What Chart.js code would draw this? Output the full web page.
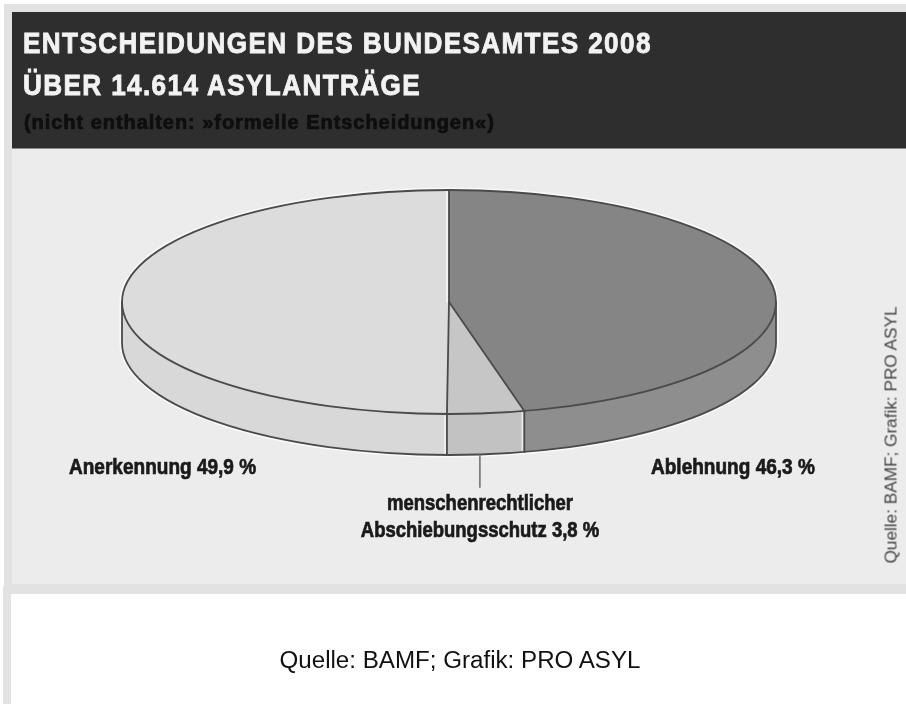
<!DOCTYPE html>
<html lang="de">
<head>
<meta charset="utf-8">
<title>Entscheidungen des Bundesamtes 2008</title>
<script src="https://cdn.jsdelivr.net/npm/chart.js@4"></script>
<style>
  html, body { margin: 0; padding: 0; background: #fff; }
  #page { position: relative; width: 906px; height: 704px; overflow: hidden; font-family: "Liberation Sans", Arial, sans-serif; }
  #page > div, #page > canvas { position: absolute; }
  #frameTop { left: 4px; top: 4px; right: 0; height: 590px; background: #e2e2e2; }
  #frameLeft { left: 3px; top: 586px; width: 8px; bottom: 0; background: #e2e2e2; }
  #panel { left: 12px; top: 148px; right: 0; height: 436px; background: #ececec; }
  #header { left: 12px; top: 12px; right: 0; height: 137px; background: #2e2e2e; border-bottom: 1px solid #8a8a8a; box-sizing: border-box; }
  #chart { left: 0; top: 0; filter: blur(0.5px); }
  .title { color: #f2f2f2; font-weight: bold; font-size: 30px; line-height: 34px; letter-spacing: 1.6px; white-space: nowrap; left: 23px; transform: scaleX(0.87); transform-origin: left center; -webkit-text-stroke: 0.9px #f2f2f2; filter: blur(0.5px); }
  #sub { left: 24px; top: 111px; color: #0e0e0e; font-weight: bold; font-size: 20px; letter-spacing: 0.95px; white-space: nowrap; -webkit-text-stroke: 0.7px #0e0e0e; filter: blur(0.7px); }
  .lbl { color: #1a1a1a; font-weight: bold; font-size: 21.5px; line-height: 27px; white-space: nowrap; -webkit-text-stroke: 0.7px #1a1a1a; filter: blur(0.4px); transform: scaleX(0.885); transform-origin: left center; }
  #lblSchutz { transform: scaleX(0.86); transform-origin: center center; }
  #source { left: 100px; top: 647px; width: 720px; text-align: center; color: #111; font-size: 23px; white-space: nowrap; transform: scaleX(1.05); }
  #credit { left: 891px; top: 435px; color: #444; font-size: 17.2px; white-space: nowrap; transform: translate(-50%, -50%) rotate(-90deg); filter: blur(0.4px); }
</style>
</head>
<body>
<div id="page">
  <div id="frameTop"></div>
  <div id="frameLeft"></div>
  <div id="panel"></div>
  <div id="header"></div>
  <canvas id="chart" width="906" height="704"></canvas>
  <div class="title" style="top:26px">ENTSCHEIDUNGEN DES BUNDESAMTES 2008</div>
  <div class="title" style="top:68px">ÜBER 14.614 ASYLANTRÄGE</div>
  <div id="sub">(nicht enthalten: »formelle Entscheidungen«)</div>
  <div class="lbl" id="lblAnerkennung" style="left:69px;top:454px"></div>
  <div class="lbl" id="lblAblehnung" style="left:651px;top:454px"></div>
  <div class="lbl" id="lblSchutz" style="left:300px;top:490px;width:360px;text-align:center"></div>
  <div id="credit">Quelle: BAMF; Grafik: PRO ASYL</div>
  <div id="source">Quelle: BAMF; Grafik: PRO ASYL</div>
</div>
<script>
const categories = ['Ablehnung', 'menschenrechtlicher Abschiebungsschutz', 'Anerkennung'];
const shares = [46.3, 3.8, 49.9];
const topColors = ['#858585', '#c6c6c6', '#dcdcdc'];
const wallColors = ['#8e8e8e', '#c2c2c2', '#d8d8d8'];

// the pie is laid out as a circle, then squashed and shifted onto this spot
const SQUASH = 112 / 327;
const CENTER_Y = 302;
const DEPTH = 41;
const OUTLINE = '#4a4a4a';

function pct(v) {
  return v.toFixed(1).replace('.', ',') + ' %';
}

document.getElementById('lblAblehnung').textContent = categories[0] + ' ' + pct(shares[0]);
document.getElementById('lblAnerkennung').textContent = categories[2] + ' ' + pct(shares[2]);
const schutz = categories[1].split(' ');
document.getElementById('lblSchutz').innerHTML = schutz[0] + '<br>' + schutz[1] + ' ' + pct(shares[1]);

function strokeLine(ctx, x0, y0, x1, y1, color, width) {
  ctx.strokeStyle = color;
  ctx.lineWidth = width;
  ctx.beginPath();
  ctx.moveTo(x0, y0);
  ctx.lineTo(x1, y1);
  ctx.stroke();
}

function wallPath(ctx, cx, rx, ry, a0, a1) {
  ctx.beginPath();
  ctx.ellipse(cx, CENTER_Y, rx, ry, 0, a0, a1);
  ctx.ellipse(cx, CENTER_Y + DEPTH, rx, ry, 0, a1, a0, true);
  ctx.closePath();
}

const pie3d = {
  id: 'pie3d',
  beforeDatasetsDraw(chart) {
    const ctx = chart.ctx;
    const arcs = chart.getDatasetMeta(0).data;
    const cx = arcs[0].x;
    const rx = arcs[0].outerRadius;
    const ry = rx * SQUASH;

    ctx.save();
    // soft white halo round the whole disc
    ctx.strokeStyle = 'rgba(255,255,255,0.75)';
    ctx.lineWidth = 5;
    wallPath(ctx, cx, rx, ry, 0, Math.PI);
    ctx.stroke();
    ctx.beginPath();
    ctx.ellipse(cx, CENTER_Y, rx, ry, 0, Math.PI, Math.PI * 2);
    ctx.stroke();

    arcs.forEach((arc, i) => {
      const a0 = Math.max(arc.startAngle, 0);
      const a1 = Math.min(arc.endAngle, Math.PI);
      if (a1 <= a0) return;
      wallPath(ctx, cx, rx, ry, a0, a1);
      ctx.fillStyle = wallColors[i];
      ctx.fill();
    });
    ctx.restore();

    ctx.save();
    ctx.translate(0, CENTER_Y);
    ctx.scale(1, SQUASH);
    ctx.translate(0, -arcs[0].y);
  },
  afterDatasetsDraw(chart) {
    const ctx = chart.ctx;
    ctx.restore();

    const arcs = chart.getDatasetMeta(0).data;
    const cx = arcs[0].x;
    const rx = arcs[0].outerRadius;
    const ry = rx * SQUASH;

    ctx.save();
    ctx.lineCap = 'round';
    arcs.forEach(arc => {
      const ex = cx + rx * Math.cos(arc.startAngle);
      const ey = CENTER_Y + ry * Math.sin(arc.startAngle);
      if (arc.startAngle > 0 && arc.startAngle < Math.PI) {
        strokeLine(ctx, ex - 2, ey + 2, ex - 2, ey + DEPTH - 1, 'rgba(255,255,255,0.7)', 1.5);
        strokeLine(ctx, ex, ey, ex, ey + DEPTH, OUTLINE, 1.8);
      }
      // highlight next to the vertical spoke
      if (arc.startAngle < 0) {
        strokeLine(ctx, ex - 2, ey + 1, ex - 2, CENTER_Y, 'rgba(255,255,255,0.8)', 1.5);
      }
      strokeLine(ctx, cx, CENTER_Y, ex, ey, OUTLINE, 1.8);
    });

    ctx.strokeStyle = OUTLINE;
    ctx.lineWidth = 1.8;
    ctx.beginPath();
    ctx.ellipse(cx, CENTER_Y, rx, ry, 0, 0, Math.PI * 2);
    ctx.stroke();
    ctx.beginPath();
    ctx.moveTo(cx + rx, CENTER_Y);
    ctx.lineTo(cx + rx, CENTER_Y + DEPTH);
    ctx.ellipse(cx, CENTER_Y + DEPTH, rx, ry, 0, 0, Math.PI);
    ctx.lineTo(cx - rx, CENTER_Y);
    ctx.stroke();

    // leader line under the small slice
    const small = arcs[1];
    const mid = (small.startAngle + small.endAngle) / 2;
    const lx = cx + rx * Math.cos(mid) - 6;
    const ly = CENTER_Y + DEPTH + ry * Math.sin(mid);
    strokeLine(ctx, lx, ly, lx, ly + 33, '#6a6a6a', 1.5);
    ctx.restore();
  }
};

new Chart(document.getElementById('chart'), {
  type: 'pie',
  data: {
    labels: categories,
    datasets: [{
      data: shares,
      backgroundColor: topColors,
      borderWidth: 0,
      clip: false
    }]
  },
  plugins: [pie3d],
  options: {
    responsive: false,
    animation: false,
    layout: { padding: { left: 122, right: 130, top: 25, bottom: 25 } },
    plugins: {
      legend: { display: false },
      title: { display: false },
      tooltip: { enabled: false }
    }
  }
});
</script>
</body>
</html>
